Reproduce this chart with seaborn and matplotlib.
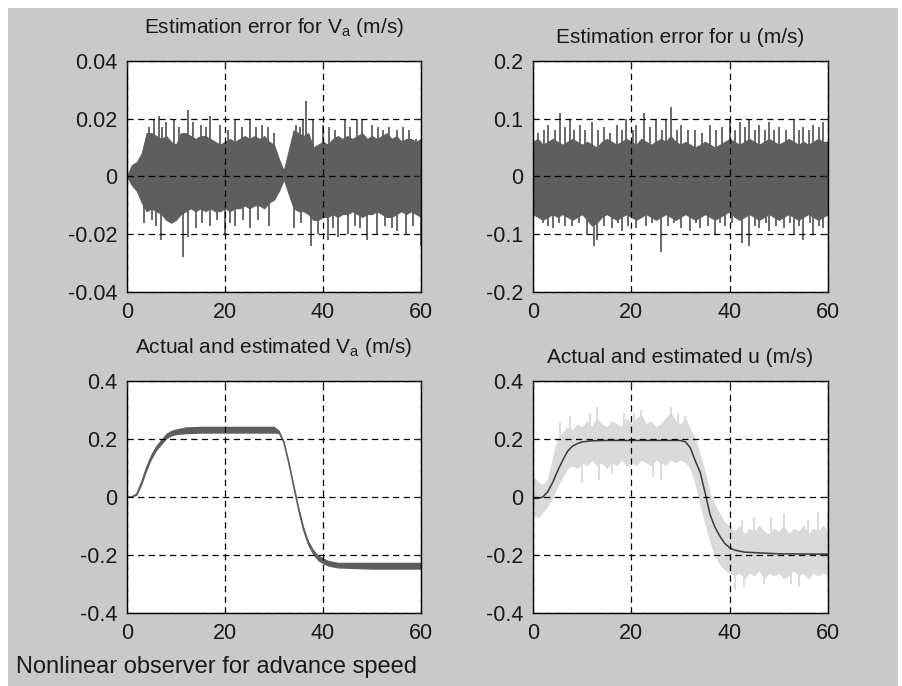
import numpy as np
import pandas as pd
import matplotlib
matplotlib.use("Agg")
import matplotlib.pyplot as plt
import seaborn as sns
from matplotlib.patches import Rectangle

# time axis, 1 s steps (0..60)
t_sec = list(range(61))

# --- estimation error for V_a : dense band edges read per second
va_err_hi = [0.000, 0.004, 0.005, 0.008, 0.015, 0.015, 0.014, 0.013, 0.014, 0.012,
             0.011, 0.015, 0.015, 0.014, 0.013, 0.014, 0.014, 0.013, 0.012, 0.011,
             0.012, 0.013, 0.012, 0.013, 0.014, 0.013, 0.014, 0.013, 0.014, 0.012,
             0.011, 0.006, 0.002, 0.009, 0.016, 0.015, 0.014, 0.015, 0.010, 0.011,
             0.012, 0.011, 0.013, 0.014, 0.013, 0.014, 0.013, 0.014, 0.015, 0.013,
             0.014, 0.013, 0.014, 0.015, 0.013, 0.014, 0.012, 0.013, 0.013, 0.012, 0.013]
va_err_lo = [0.000, -0.003, -0.005, -0.009, -0.012, -0.011, -0.012, -0.013, -0.015, -0.016,
             -0.015, -0.013, -0.012, -0.011, -0.012, -0.011, -0.012, -0.011, -0.012, -0.012,
             -0.011, -0.012, -0.011, -0.011, -0.010, -0.011, -0.010, -0.010, -0.011, -0.009,
             -0.008, -0.005, -0.001, -0.006, -0.011, -0.012, -0.012, -0.013, -0.015, -0.015,
             -0.014, -0.014, -0.013, -0.014, -0.013, -0.013, -0.012, -0.013, -0.014, -0.013,
             -0.013, -0.012, -0.013, -0.014, -0.014, -0.013, -0.012, -0.013, -0.012, -0.013, -0.014]
va_spk_up_t = [4.5, 5.5, 6.5, 7.2, 8, 9.5, 10.7, 12.5, 13.5, 15, 16.2, 17, 19, 20.6, 22, 23.4, 25, 26.3,
               27.5, 28.8, 30, 34.5, 35.3, 36, 36.5, 38, 40, 41.3, 42.4, 44.5, 45.6, 47, 48, 50, 51.2,
               52.3, 53.5, 55, 56.3, 57.6, 59]
va_spk_up_v = [0.017, 0.020, 0.021, 0.017, 0.019, 0.020, 0.017, 0.023, 0.019, 0.018, 0.017, 0.021, 0.018,
               0.016, 0.020, 0.017, 0.020, 0.017, 0.018, 0.017, 0.015, 0.018, 0.017, 0.020, 0.026, 0.020,
               0.018, 0.017, 0.016, 0.020, 0.017, 0.020, 0.020, 0.018, 0.017, 0.016, 0.017, 0.016, 0.017,
               0.016, 0.013]
va_spk_dn_t = [3.5, 5, 6, 7, 11.5, 12.5, 14, 15.4, 17, 18.3, 20, 21, 22, 23.6, 25, 26.7, 29,
               34, 35.5, 37.5, 39, 41, 42, 43, 45, 46.5, 47.5, 49, 51, 52.6, 54, 55, 57, 58.4, 60]
va_spk_dn_v = [-0.016, -0.015, -0.017, -0.022, -0.028, -0.021, -0.018, -0.016, -0.017, -0.015, -0.020,
               -0.016, -0.017, -0.015, -0.018, -0.015, -0.017, -0.018, -0.016, -0.024, -0.020, -0.022,
               -0.018, -0.021, -0.020, -0.017, -0.018, -0.022, -0.020, -0.017, -0.018, -0.019, -0.020,
               -0.017, -0.024]

# --- estimation error for u
u_err_hi = [0.060, 0.065, 0.055, 0.060, 0.065, 0.060, 0.055, 0.060, 0.065, 0.060,
            0.055, 0.060, 0.055, 0.050, 0.060, 0.065, 0.060, 0.055, 0.060, 0.065,
            0.060, 0.055, 0.065, 0.060, 0.055, 0.060, 0.065, 0.060, 0.070, 0.060,
            0.055, 0.060, 0.055, 0.050, 0.055, 0.060, 0.055, 0.050, 0.055, 0.060,
            0.065, 0.060, 0.055, 0.060, 0.065, 0.060, 0.055, 0.060, 0.065, 0.060,
            0.055, 0.060, 0.065, 0.060, 0.055, 0.060, 0.055, 0.060, 0.065, 0.060, 0.060]
u_err_lo = [-0.065, -0.070, -0.075, -0.070, -0.065, -0.070, -0.065, -0.070, -0.075, -0.070,
            -0.065, -0.075, -0.085, -0.080, -0.070, -0.065, -0.070, -0.075, -0.070, -0.065,
            -0.070, -0.075, -0.070, -0.065, -0.070, -0.075, -0.070, -0.065, -0.070, -0.075,
            -0.070, -0.065, -0.070, -0.075, -0.070, -0.065, -0.070, -0.075, -0.070, -0.065,
            -0.060, -0.070, -0.075, -0.070, -0.065, -0.070, -0.075, -0.070, -0.065, -0.070,
            -0.075, -0.070, -0.065, -0.070, -0.075, -0.070, -0.065, -0.070, -0.075, -0.070, -0.065]
u_spk_up_t = [1, 2.2, 3, 4.4, 5.5, 6.6, 7.5, 8.4, 9.5, 10.6, 12, 13.2, 14.5, 15.6, 17, 18.2, 19, 20.3,
              21, 22.5, 23.7, 25, 26.2, 27, 28, 29.2, 30, 31.5, 33, 34.4, 36, 37.2, 38.5, 40, 41, 42,
              43.2, 44, 45.1, 46, 47.2, 48, 49.1, 50, 51.4, 53, 54, 55, 56.2, 57, 58.1, 59]
u_spk_up_v = [0.075, 0.080, 0.090, 0.080, 0.110, 0.085, 0.100, 0.080, 0.090, 0.080, 0.095, 0.080, 0.085,
              0.075, 0.090, 0.080, 0.100, 0.080, 0.090, 0.110, 0.085, 0.100, 0.080, 0.100, 0.120, 0.080,
              0.090, 0.080, 0.080, 0.075, 0.090, 0.080, 0.085, 0.100, 0.080, 0.095, 0.085, 0.100, 0.080,
              0.090, 0.080, 0.095, 0.080, 0.085, 0.080, 0.100, 0.080, 0.085, 0.080, 0.090, 0.085, 0.095]
u_spk_dn_t = [2, 3.1, 4, 5.2, 6.5, 8, 9.3, 11, 12.5, 13, 14.4, 16, 17.2, 18, 19.4, 21, 23, 24.3,
              26, 27.4, 28.6, 30, 32, 33.2, 34, 35.5, 37, 38.1, 39, 40.5, 42.5, 44, 45.2, 46, 47.3,
              48, 49.4, 51, 52.2, 53, 54.1, 55, 56.4, 57, 58.2, 59]
u_spk_dn_v = [-0.080, -0.085, -0.090, -0.080, -0.085, -0.085, -0.080, -0.100, -0.120, -0.110, -0.085,
              -0.090, -0.080, -0.095, -0.085, -0.090, -0.085, -0.080, -0.130, -0.085, -0.080, -0.090,
              -0.095, -0.080, -0.090, -0.085, -0.100, -0.080, -0.085, -0.080, -0.115, -0.120, -0.085,
              -0.090, -0.080, -0.095, -0.085, -0.090, -0.080, -0.100, -0.085, -0.110, -0.080, -0.100,
              -0.085, -0.090]

# --- actual and estimated V_a
t_knot = [0, 1, 2, 3, 4, 5, 6, 7, 8, 9, 10, 12, 15, 20, 25, 30, 31, 32, 33, 34,
          35, 36, 37, 38, 39, 40, 41, 43, 50, 60]
va_true = [0.0, 0.0, 0.01, 0.05, 0.10, 0.14, 0.17, 0.19, 0.21, 0.22, 0.225, 0.23, 0.232, 0.232, 0.232, 0.232,
           0.225, 0.19, 0.12, 0.04, -0.04, -0.11, -0.16, -0.19, -0.21, -0.22, -0.228, -0.235, -0.237, -0.237]
va_noise = [0.0, 0.0, 0.004, 0.008, 0.010, 0.010, 0.010, 0.010, 0.010, 0.010, 0.010, 0.012, 0.012, 0.012, 0.012,
            0.012, 0.006, 0.002, 0.002, 0.004, 0.008, 0.010, 0.010, 0.010, 0.010, 0.010, 0.010, 0.010, 0.012, 0.012]

# --- actual and estimated u
u_true = [-0.005, -0.005, 0.0, 0.018, 0.05, 0.09, 0.125, 0.157, 0.175, 0.184, 0.19, 0.194, 0.195, 0.195, 0.195,
          0.195, 0.19, 0.17, 0.125, 0.085, 0.015, -0.06, -0.104, -0.135, -0.16, -0.175, -0.183, -0.19, -0.196, -0.197]
u_est_hi = [0.07, 0.05, 0.04, 0.06, 0.13, 0.20, 0.22, 0.24, 0.23, 0.25,
            0.24, 0.26, 0.24, 0.27, 0.25, 0.24, 0.26, 0.25, 0.24, 0.27,
            0.25, 0.27, 0.28, 0.25, 0.26, 0.24, 0.25, 0.27, 0.29, 0.26,
            0.25, 0.27, 0.23, 0.20, 0.14, 0.08, 0.01, -0.03, -0.06, -0.09,
            -0.10, -0.12, -0.10, -0.13, -0.11, -0.12, -0.10, -0.12, -0.13, -0.11,
            -0.12, -0.10, -0.13, -0.11, -0.12, -0.10, -0.13, -0.11, -0.12, -0.10, -0.12]
u_est_lo = [-0.06, -0.07, -0.05, -0.03, 0.00, 0.04, 0.07, 0.10, 0.11, 0.10,
            0.12, 0.11, 0.13, 0.11, 0.12, 0.10, 0.12, 0.11, 0.13, 0.11,
            0.12, 0.11, 0.13, 0.12, 0.11, 0.13, 0.12, 0.11, 0.13, 0.12,
            0.13, 0.12, 0.10, 0.05, -0.02, -0.09, -0.15, -0.20, -0.23, -0.25,
            -0.26, -0.27, -0.26, -0.28, -0.26, -0.27, -0.25, -0.28, -0.26, -0.27,
            -0.26, -0.28, -0.27, -0.25, -0.27, -0.26, -0.28, -0.26, -0.27, -0.26, -0.27]
u_est_spk_t = [5.5, 7.5, 10, 11.5, 13, 13.5, 16, 18.5, 20.5, 22, 24.5, 26, 28, 29.5, 31,
               41, 42.5, 43, 45, 47, 48.5, 51, 52.5, 54, 56, 58, 60]
u_est_spk_a = [0.20, 0.22, 0.13, 0.22, 0.25, 0.12, 0.13, 0.24, 0.24, 0.22, 0.12, 0.12, 0.25, 0.24, 0.23,
               -0.22, -0.12, -0.22, -0.15, -0.20, -0.12, -0.14, -0.22, -0.23, -0.14, -0.14, -0.13]
u_est_spk_b = [0.26, 0.28, 0.05, 0.29, 0.31, 0.06, 0.08, 0.29, 0.29, 0.30, 0.07, 0.06, 0.31, 0.29, 0.28,
               -0.32, -0.08, -0.31, -0.07, -0.30, -0.07, -0.06, -0.30, -0.31, -0.08, -0.05, -0.06]

titles = ["Estimation error for $\\mathregular{V_a}$ (m/s)", "Estimation error for u (m/s)",
          "Actual and estimated $\\mathregular{V_a}$ (m/s)", "Actual and estimated u (m/s)"]
title_pads = [20, 13, 20, 13]
x_ticks = [0, 20, 40, 60]
x_labels = ["0", "20", "40", "60"]
y_ticks_va_err = [-0.04, -0.02, 0, 0.02, 0.04]
y_labels_va_err = ["-0.04", "-0.02", "0", "0.02", "0.04"]
y_ticks_u_err = [-0.2, -0.1, 0, 0.1, 0.2]
y_labels_u_err = ["-0.2", "-0.1", "0", "0.1", "0.2"]
y_ticks_speed = [-0.4, -0.2, 0, 0.2, 0.4]
y_labels_speed = ["-0.4", "-0.2", "0", "0.2", "0.4"]
footer = "Nonlinear observer for advance speed"

sns.set_style("white")
plt.rcParams["font.family"] = ["Liberation Sans", "DejaVu Sans"]
plt.rcParams["axes.unicode_minus"] = False

dark = "#5e5e5e"
light = "#dadada"
bg = "#c9c9c9"

fig = plt.figure(figsize=(9.02, 6.86), dpi=100)
fig.patch.set_facecolor("white")
fig.patches.append(Rectangle((8 / 902, 0), 890 / 902, 678 / 686, transform=fig.transFigure,
                             facecolor=bg, edgecolor="none", zorder=-10))

W, H = 902, 686
def add_axes(l, t, r, b):
    return fig.add_axes([l / W, 1 - b / H, (r - l) / W, (b - t) / H])

ax1 = add_axes(127, 61, 421, 292)
ax2 = add_axes(533, 61, 828, 292)
ax3 = add_axes(127, 381, 421, 613)
ax4 = add_axes(533, 381, 828, 613)

# top-left
ax1.fill_between(t_sec, va_err_lo, va_err_hi, color=dark, lw=0.8, edgecolor=dark)
ax1.vlines(va_spk_up_t, 0, va_spk_up_v, color=dark, lw=1.3)
ax1.vlines(va_spk_dn_t, va_spk_dn_v, 0, color=dark, lw=1.3)

# top-right
ax2.fill_between(t_sec, u_err_lo, u_err_hi, color=dark, lw=0.8, edgecolor=dark)
ax2.vlines(u_spk_up_t, 0, u_spk_up_v, color=dark, lw=1.3)
ax2.vlines(u_spk_dn_t, u_spk_dn_v, 0, color=dark, lw=1.3)

# bottom-left
va_df = pd.DataFrame({"t": t_knot, "v": va_true, "n": va_noise})
ax3.fill_between(va_df["t"], va_df["v"] - va_df["n"], va_df["v"] + va_df["n"], color=dark, lw=0)
sns.lineplot(data=va_df, x="t", y="v", ax=ax3, color=dark, lw=1.2)

# bottom-right
ax4.fill_between(t_sec, u_est_lo, u_est_hi, color=light, lw=0.8, edgecolor=light)
ax4.vlines(u_est_spk_t, u_est_spk_a, u_est_spk_b, color=light, lw=1.3)
u_df = pd.DataFrame({"t": t_knot, "v": u_true})
sns.lineplot(data=u_df, x="t", y="v", ax=ax4, color="#3a3a3a", lw=1.1)

specs = [(ax1, y_ticks_va_err, y_labels_va_err), (ax2, y_ticks_u_err, y_labels_u_err),
         (ax3, y_ticks_speed, y_labels_speed), (ax4, y_ticks_speed, y_labels_speed)]
for (ax, yt, yl), title, pad in zip(specs, titles, title_pads):
    ax.set_facecolor("white")
    ax.set_xlim(0, 60)
    ax.set_ylim(yt[0], yt[-1])
    ax.set_xticks(x_ticks)
    ax.set_xticklabels(x_labels)
    ax.set_yticks(yt)
    ax.set_yticklabels(yl)
    ax.set_xlabel("")
    ax.set_ylabel("")
    ax.set_axisbelow(False)
    ax.grid(True, color="black", linestyle=(0, (5, 3.5)), lw=0.9, zorder=3)
    ax.tick_params(direction="in", top=True, right=True, length=4, width=0.8,
                   labelsize=15.5, labelcolor="#1a1a1a", pad=7)
    for s in ax.spines.values():
        s.set_visible(True)
        s.set_color("black")
        s.set_linewidth(1.0)
    ax.set_title(title, fontsize=15, color="#1a1a1a", pad=pad)

fig.text(16 / W, 1 - 673 / H, footer, fontsize=17, color="#1a1a1a", ha="left", va="baseline")

fig.savefig("out.png", dpi=100, facecolor=fig.get_facecolor())
